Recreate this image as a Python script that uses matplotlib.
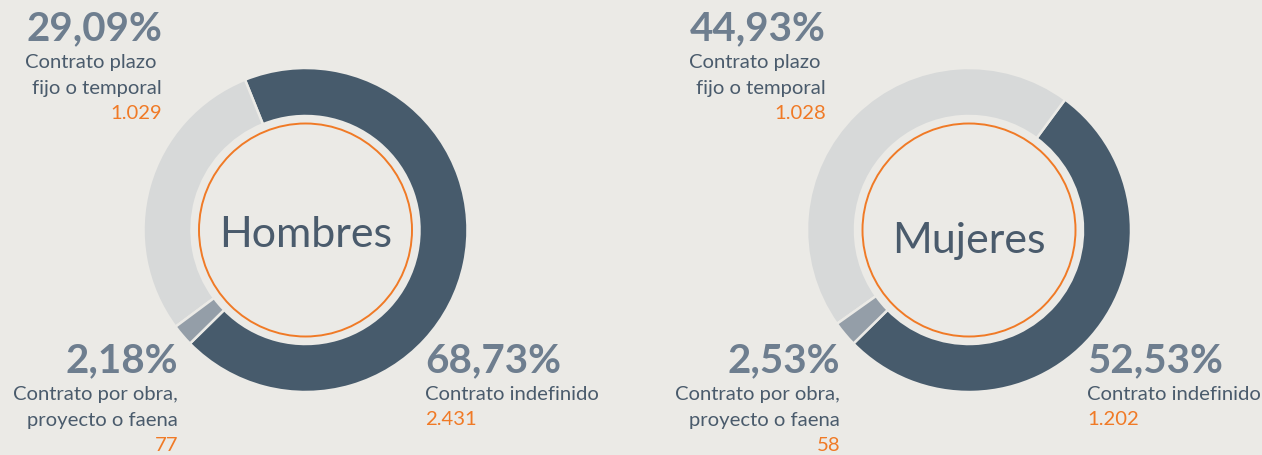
import matplotlib.pyplot as plt

# Data
groups = ['Hombres', 'Mujeres']
categories = ['Contrato indefinido', 'Contrato plazo \nfijo o temporal', 'Contrato por obra,\nproyecto o faena']
hombres_pct = [68.73, 29.09, 2.18]
hombres_n = [2431, 1029, 77]
mujeres_pct = [52.53, 44.93, 2.53]
mujeres_n = [1202, 1028, 58]

# Colours
bg = '#ebeae6'
seg_colors = ['#475b6c', '#d7d9d9', '#949ea8']
pct_color = '#6e7e8f'
label_color = '#4a5b6c'
orange = '#f07a26'

W, H = 1262, 455
plt.rcParams['font.family'] = ['Lato', 'DejaVu Sans']

fig = plt.figure(figsize=(W / 100, H / 100), dpi=100, facecolor=bg)
ax = fig.add_axes([0, 0, 1, 1])
ax.set_facecolor(bg)


def fmt_pct(v):
    return f'{v:.2f}'.replace('.', ',') + '%'


def fmt_n(n):
    return f'{n:,}'.replace(',', '.')


def label_block(x, y, ha, pct, cat, n):
    # y is the baseline of the percentage in pixel coords (top-down)
    ax.text(x, H - y, fmt_pct(pct), ha=ha, va='baseline', fontsize=29,
            fontweight='bold', color=pct_color)
    yy = y + 2
    for line in cat.split('\n'):
        yy += 26
        ax.text(x, H - yy, line, ha=ha, va='baseline', fontsize=14.6, color=label_color)
    yy += 25
    ax.text(x, H - yy, fmt_n(n), ha=ha, va='baseline', fontsize=14.6, color=orange)


# layout per donut: center x, title baseline, label anchors (x, baseline y)
layouts = [
    dict(cx=305.5, title_y=247, top=(162, 40), bl=(178, 372), br=(425, 372)),
    dict(cx=969.0, title_y=253, top=(826, 40), bl=(840, 372), br=(1087, 372)),
]
cy = 230
R = 162
ring = 48

for name, pct, n, lay in zip(groups, [hombres_pct, mujeres_pct], [hombres_n, mujeres_n], layouts):
    ax.pie(pct, colors=seg_colors, startangle=224.5, counterclock=True,
           center=(lay['cx'], H - cy), radius=R,
           wedgeprops=dict(width=ring, edgecolor=bg, linewidth=1.8))
    circ = plt.Circle((lay['cx'], H - cy), 106.5, fill=False, edgecolor=orange, linewidth=1.4)
    ax.add_patch(circ)
    ax.text(lay['cx'], H - lay['title_y'], name, ha='center', va='baseline', fontsize=31,
            color=label_color)

    label_block(lay['top'][0], lay['top'][1], 'right', pct[1], categories[1], n[1])
    label_block(lay['bl'][0], lay['bl'][1], 'right', pct[2], categories[2], n[2])
    label_block(lay['br'][0], lay['br'][1], 'left', pct[0], categories[0], n[0])

ax.set_xlim(0, W)
ax.set_ylim(0, H)
ax.set_aspect('equal')
ax.axis('off')

fig.savefig('out.png', dpi=100, facecolor=bg)
